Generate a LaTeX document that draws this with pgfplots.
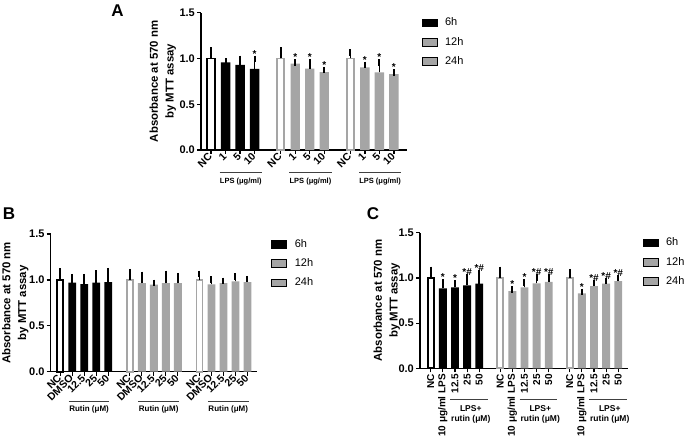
\documentclass[border=0pt]{standalone}
\usepackage{pgfplots}
\pgfplotsset{compat=1.18}
\usepackage{fontspec}
\setmainfont{Liberation Sans}
\definecolor{barg}{RGB}{165,165,165}
\pgfplotsset{
  panel/.style={
    scale only axis, clip=false,
    axis x line*=bottom, axis y line*=left,
    axis line style={line width=1.4pt,-},
    ymin=0, ymax=1.5, ytick={0,0.5,1,1.5}, yticklabels={0.0,0.5,1.0,1.5},
    tick style={black, line width=1.2pt}, major tick length=4pt, tick align=outside,
    yticklabel style={font=\bfseries\fontsize{11}{12}\selectfont, inner sep=2pt},
    xticklabel style={font=\bfseries\fontsize{10.5}{12}\selectfont},
    ylabel={Absorbance at 570 nm\\by MTT assay},
    legend image code/.code={\fill[##1] (0pt,-3.8pt) rectangle (15pt,3.8pt); \path (0pt,-9.5pt) (23pt,9.5pt);},
    legend cell align=left,
    legend style={at={(1,1)}, anchor=north west, xshift=14.5pt, yshift=0pt, draw=none, fill=none,
      font=\fontsize{11}{12}\selectfont, row sep=0pt, inner sep=0pt, nodes={inner sep=0pt}},
  },
  errb/.style={error bars/.cd, y dir=plus, y explicit,
    error bar style={line width=1.7pt, black},
    error mark options={black, line width=2pt, mark size=3.2pt}},
  ncblack/.style={ybar, bar shift=0pt, bar width=0.5, fill=white, draw=black, line width=1.8pt, forget plot, errb},
  ncgray/.style={ybar, bar shift=0pt, bar width=0.5, fill=white, draw=barg, line width=1.8pt, forget plot, errb},
  fblack/.style={ybar, bar shift=0pt, bar width=0.65, fill=black, draw=none, forget plot, errb},
  fgray/.style={ybar, bar shift=0pt, bar width=0.65, fill=barg, draw=none, forget plot, errb},
  star/.style={draw=none, mark=none, forget plot, nodes near coords={#1},
    nodes near coords style={anchor=south, inner sep=0pt, yshift=1.5pt, font=\bfseries\fontsize{10}{12}\selectfont}},
  ylab/.style={ylabel style={align=center, font=\bfseries\fontsize{11.4}{15.7}\selectfont, at={(axis description cs:#1,0.5)}, anchor=center}},
}
\begin{document}
\begin{tikzpicture}
\path[use as bounding box] (0,0) rectangle (685pt,440pt);
% ---------------- Panel A ----------------
\begin{axis}[panel, at={(201pt,290pt)}, anchor=south west, width=206pt, height=137.3pt,
  xmin=-0.69, xmax=13.5,
  xtick={0,1,2,3,4.8,5.8,6.8,7.8,9.6,10.6,11.6,12.6},
  xticklabels={NC,1,5,10,NC,1,5,10,NC,1,5,10},
  xticklabel style={rotate=45, anchor=east, inner sep=1pt},
  ylab=-0.185]
\addlegendimage{fill=black}\addlegendentry{6h}
\addlegendimage{fill=barg}\addlegendentry{12h}
\addlegendimage{fill=barg}\addlegendentry{24h}
\addplot[ncblack] table[x=x,y=y,y error=e] {
x y e
0 1.0 0.085
};
\addplot[ncgray] table[x=x,y=y,y error=e] {
x y e
4.8 1.0 0.09
9.6 1.0 0.063
};
\addplot[fblack] table[x=x,y=y,y error=e] {
x y e
1 0.958 0.012
2 0.93 0.065
3 0.885 0.11
};
\addplot[fgray] table[x=x,y=y,y error=e] {
x y e
5.8 0.943 0.015
6.8 0.889 0.071
7.8 0.852 0.022
10.6 0.904 0.026
11.6 0.849 0.109
12.6 0.83 0.015
};
\addplot[star={*}] coordinates {(3,0.995) (5.8,0.958) (6.8,0.96) (7.8,0.874) (10.6,0.93) (11.6,0.958) (12.6,0.845)};
\draw[black!75, line width=0.8pt] (axis cs:0.6,-0.25) -- (axis cs:3.5,-0.25);
\draw[black!75, line width=0.8pt] (axis cs:5.4,-0.25) -- (axis cs:8.3,-0.25);
\draw[black!75, line width=0.8pt] (axis cs:10.2,-0.25) -- (axis cs:13.1,-0.25);
\node[font=\bfseries\fontsize{7.5}{9}\selectfont] at (axis cs:2.05,-0.35) {LPS (μg/ml)};
\node[font=\bfseries\fontsize{7.5}{9}\selectfont] at (axis cs:6.85,-0.35) {LPS (μg/ml)};
\node[font=\bfseries\fontsize{7.5}{9}\selectfont] at (axis cs:11.65,-0.35) {LPS (μg/ml)};
\end{axis}
% ---------------- Panel B ----------------
\begin{axis}[panel, at={(50.7pt,68.3pt)}, anchor=south west, width=206pt, height=137.7pt,
  xmin=-0.8, xmax=16.37,
  xtick={0,1,2,3,4,5.8,6.8,7.8,8.8,9.8,11.6,12.6,13.6,14.6,15.6},
  xticklabels={NC,DMSO,12.5,25,50,NC,DMSO,12.5,25,50,NC,DMSO,12.5,25,50},
  xticklabel style={rotate=45, anchor=east, inner sep=1pt},
  ylab=-0.172]
\addlegendimage{fill=black}\addlegendentry{6h}
\addlegendimage{fill=barg}\addlegendentry{12h}
\addlegendimage{fill=barg}\addlegendentry{24h}
\addplot[ncblack] table[x=x,y=y,y error=e] {
x y e
0 1.0 0.09
};
\addplot[ncgray] table[x=x,y=y,y error=e] {
x y e
5.8 1.0 0.086
11.6 1.0 0.067
};
\addplot[fblack] table[x=x,y=y,y error=e] {
x y e
1 0.97 0.06
2 0.955 0.075
3 0.97 0.10
4 0.975 0.12
};
\addplot[fgray] table[x=x,y=y,y error=e] {
x y e
6.8 0.966 0.09
7.8 0.948 0.02
8.8 0.966 0.10
9.8 0.966 0.075
12.6 0.95 0.055
13.6 0.966 0.025
14.6 0.984 0.055
15.6 0.975 0.035
};
\draw[black!75, line width=0.8pt] (axis cs:0.7,-0.32) -- (axis cs:4.1,-0.32);
\draw[black!75, line width=0.8pt] (axis cs:6.5,-0.32) -- (axis cs:9.9,-0.32);
\draw[black!75, line width=0.8pt] (axis cs:12.3,-0.32) -- (axis cs:15.7,-0.32);
\node[font=\bfseries\fontsize{8}{9}\selectfont] at (axis cs:2.4,-0.41) {Rutin (μM)};
\node[font=\bfseries\fontsize{8}{9}\selectfont] at (axis cs:8.2,-0.41) {Rutin (μM)};
\node[font=\bfseries\fontsize{8}{9}\selectfont] at (axis cs:14.0,-0.41) {Rutin (μM)};
\end{axis}
% ---------------- Panel C ----------------
\begin{axis}[panel, at={(420pt,71.7pt)}, anchor=south west, width=208pt, height=135.6pt,
  xmin=-0.88, xmax=16.24,
  xtick={0,1,2,3,4,5.72,6.72,7.72,8.72,9.72,11.44,12.44,13.44,14.44,15.44},
  xticklabels={NC,10 μg/ml LPS,12.5,25,50,NC,10 μg/ml LPS,12.5,25,50,NC,10 μg/ml LPS,12.5,25,50},
  xticklabel style={rotate=90, anchor=east, inner sep=1.5pt, font=\bfseries\fontsize{10}{12}\selectfont},
  ylab=-0.16]
\addlegendimage{fill=black}\addlegendentry{6h}
\addlegendimage{fill=barg}\addlegendentry{12h}
\addlegendimage{fill=barg}\addlegendentry{24h}
\addplot[ncblack] table[x=x,y=y,y error=e] {
x y e
0 1.0 0.09
};
\addplot[ncgray] table[x=x,y=y,y error=e] {
x y e
5.72 1.0 0.09
11.44 1.0 0.065
};
\addplot[fblack] table[x=x,y=y,y error=e] {
x y e
1 0.883 0.07
2 0.894 0.045
3 0.916 0.09
4 0.938 0.11
};
\addplot[fgray] table[x=x,y=y,y error=e] {
x y e
6.72 0.854 0.018
7.72 0.894 0.054
8.72 0.94 0.063
9.72 0.955 0.048
12.44 0.83 0.016
13.44 0.91 0.034
14.44 0.938 0.03
15.44 0.963 0.037
};
\addplot[star={*}] coordinates {(1,0.953) (2,0.939) (6.72,0.872) (7.72,0.948) (12.44,0.846)};
\addplot[star={*\#}] coordinates {(3,1.006) (4,1.048) (8.72,1.003) (9.72,1.003) (13.44,0.944) (14.44,0.968) (15.44,1.0)};
\draw[black!75, line width=0.8pt] (axis cs:1.6,-0.346) -- (axis cs:4.7,-0.346);
\draw[black!75, line width=0.8pt] (axis cs:7.32,-0.346) -- (axis cs:10.42,-0.346);
\draw[black!75, line width=0.8pt] (axis cs:13.04,-0.346) -- (axis cs:16.14,-0.346);
\node[font=\bfseries\fontsize{8.5}{10.5}\selectfont, align=center] at (axis cs:3.3,-0.51) {LPS+\\rutin (μM)};
\node[font=\bfseries\fontsize{8.5}{10.5}\selectfont, align=center] at (axis cs:9.02,-0.51) {LPS+\\rutin (μM)};
\node[font=\bfseries\fontsize{8.5}{10.5}\selectfont, align=center] at (axis cs:14.74,-0.51) {LPS+\\rutin (μM)};
\end{axis}
% panel letters
\node[font=\bfseries\fontsize{17}{20}\selectfont] at (117.5pt,429pt) {A};
\node[font=\bfseries\fontsize{17}{20}\selectfont] at (9pt,226pt) {B};
\node[font=\bfseries\fontsize{17}{20}\selectfont] at (373pt,226pt) {C};
\end{tikzpicture}
\end{document}
